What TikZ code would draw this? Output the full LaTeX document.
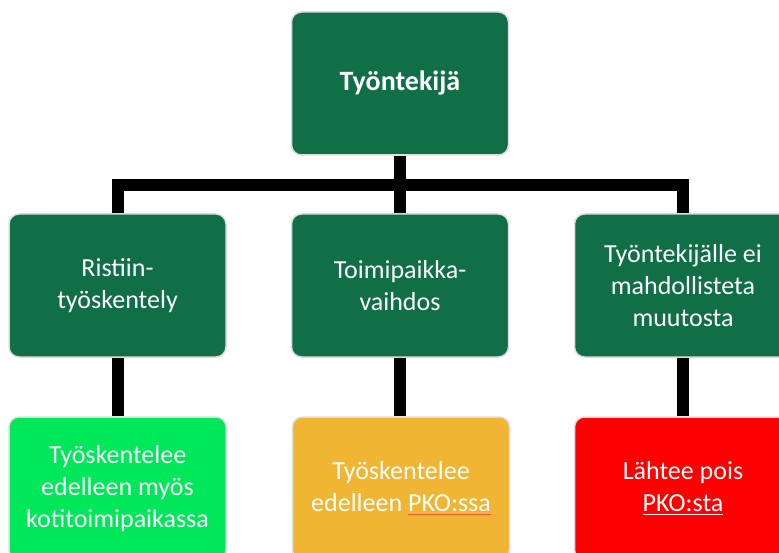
\documentclass[tikz,border=0pt]{standalone}
\usepackage{fontspec}
\setmainfont{Carlito}
\definecolor{boxgreen}{RGB}{16,111,70}
\definecolor{brightgreen}{RGB}{0,232,90}
\definecolor{amber}{RGB}{240,181,50}
\definecolor{alertred}{RGB}{255,0,0}
\definecolor{rimgray}{RGB}{220,220,220}
\definecolor{squiggle}{RGB}{240,90,60}
% underline a word with a thin coloured rule
\newcommand\markword[2]{\setbox0\hbox{#2}\leavevmode\rlap{\color{#1}\rule[-3.5pt]{\wd0}{1pt}}\box0}
\begin{document}
\begin{tikzpicture}[x=1pt,y=1pt,
  card/.style={rounded corners=10pt, draw=rimgray, line width=1.5pt,
    minimum width=217pt, minimum height=143pt, inner sep=0pt,
    text=white, align=center, font=\fontsize{26}{32}\selectfont},
  link/.style={line width=12pt, black}]
\useasboundingbox (0,0) rectangle (779,-553);
\clip (0,0) rectangle (779,-553);
% boxes
\node[card, fill=boxgreen, font=\fontsize{28}{32}\selectfont\bfseries] (top) at (400,-83.5) {Työntekijä};
\node[card, fill=boxgreen] (left) at (117.5,-285.5) {Ristiin-\\työskentely};
\node[card, fill=boxgreen] (mid) at (400,-285.5) {Toimipaikka-\\vaihdos};
\node[card, fill=boxgreen] (right) at (683,-285.5) {Työntekijälle ei\\mahdollisteta\\muutosta};
\node[card, fill=brightgreen] (leftout) at (117.5,-488.5) {Työskentelee\\edelleen myös\\kotitoimipaikassa};
\node[card, fill=amber] (midout) at (401,-488.5) {Työskentelee\\edelleen \markword{squiggle}{PKO:ssa}};
\node[card, fill=alertred] (rightout) at (683,-488.5) {Lähtee pois\\\markword{white}{PKO:sta}};
% connectors
\coordinate (bar) at (0,-185);
\draw[link] (top.south) -- (top.south |- bar);
\draw[link, line join=miter] (left.north) -- (left.north |- bar) -- (right.north |- bar) -- (right.north);
\draw[link] (mid.north |- bar) -- (mid.north);
\draw[link] (left.south) -- (leftout.north);
\draw[link] (mid.south) -- (mid.south |- midout.north);
\draw[link] (right.south) -- (rightout.north);
\end{tikzpicture}
\end{document}
